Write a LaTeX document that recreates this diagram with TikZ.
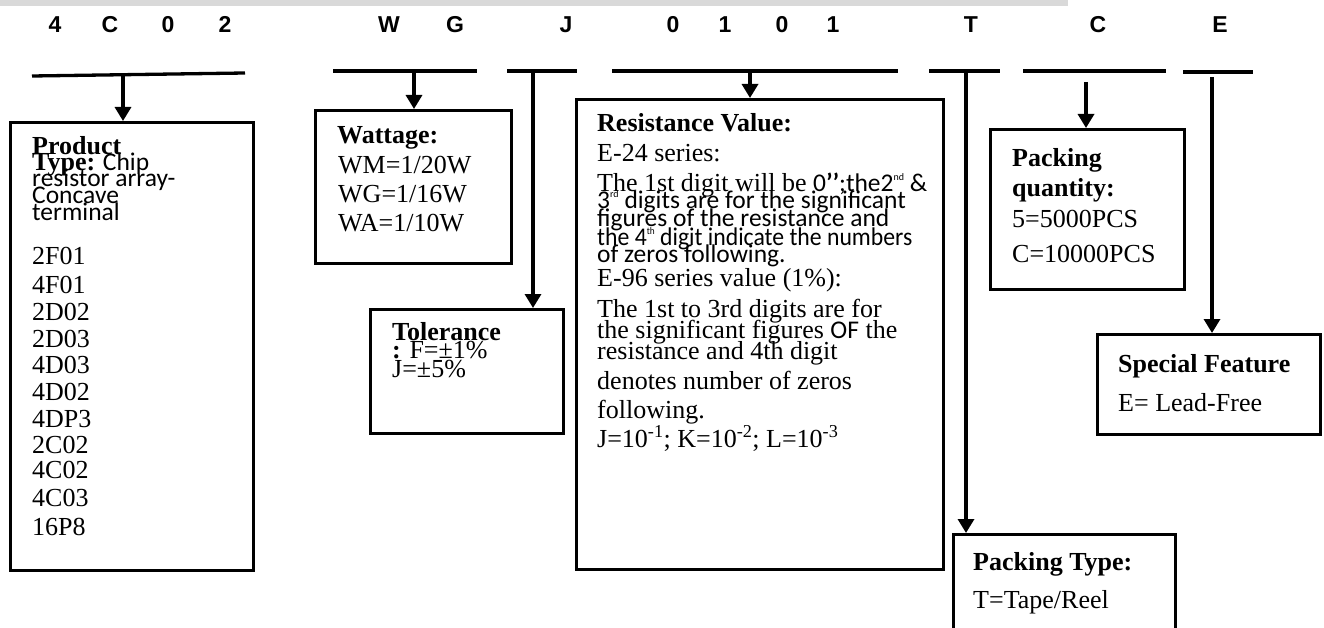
\documentclass[tikz,border=0pt]{standalone}
\usepackage{fontspec}
\setmainfont{Liberation Serif}
\newfontfamily\calfont{Carlito}
\newfontfamily\hdrfont{Liberation Sans}
\usetikzlibrary{arrows.meta}
\definecolor{bandgray}{HTML}{D9D9D9}
\newcommand\tinysup[1]{\raisebox{0.95ex}{\fontsize{10}{10}\selectfont #1}}
\begin{document}
\begin{tikzpicture}[x=1pt,y=-1pt,
  box/.style={draw, line width=3.3pt, inner sep=0pt, anchor=north west},
  bar/.style={line width=3.3pt},
  arr/.style={line width=3.3pt, -{Triangle[width=16pt,length=14pt]}},
  hd/.style={anchor=base, inner sep=0pt, font=\hdrfont\bfseries\fontsize{23}{26}\selectfont},
  tx/.style={anchor=base west, inner sep=0pt, font=\fontsize{26}{28}\selectfont},
  sx/.style={anchor=base west, inner sep=0pt, font=\calfont\fontsize{25.5}{27}\selectfont},
]
\useasboundingbox (0,0) rectangle (1324,628);
\clip (0,0) rectangle (1324,628);
\fill[bandgray] (0,0) rectangle (1068,6);

% header characters
\foreach \c/\x [count=\i] in {4/55,C/110,0/168,2/225,W/389,G/455,J/566,0/673,1/725,0/782,1/833,T/971,C/1098,E/1220}
  \node[hd] (h\i) at (\x,33) {\c};

% bars
\coordinate (b1l) at (32,76);  \coordinate (b1r) at (245,73);
\coordinate (b2l) at (333,71); \coordinate (b2r) at (477,71);
\coordinate (b3l) at (507,71); \coordinate (b3r) at (577,71);
\coordinate (b4l) at (612,71); \coordinate (b4r) at (898,71);
\coordinate (b5l) at (929,71); \coordinate (b5r) at (1000,71);
\coordinate (b6l) at (1023,71); \coordinate (b6r) at (1166,71);
\coordinate (b7l) at (1183,72); \coordinate (b7r) at (1253,72);
\foreach \i in {1,...,7} \draw[bar] (b\i l) -- (b\i r);

% boxes
\node[box, minimum width=243pt, minimum height=448pt] (prod) at (9,121) {};
\node[box, minimum width=196pt, minimum height=153pt] (watt) at (314,109) {};
\node[box, minimum width=193pt, minimum height=124pt] (tol) at (369,308) {};
\node[box, minimum width=367pt, minimum height=470pt] (res) at (575,98) {};
\node[box, minimum width=194pt, minimum height=160pt] (pq) at (989,128) {};
\node[box, minimum width=223pt, minimum height=100pt] (sf) at (1096,333) {};
\node[box, minimum width=222pt, minimum height=130pt] (pt) at (952,533) {};

% connectors
\coordinate (s1) at (123,75);
\coordinate (s2) at (414,71);
\coordinate (s3) at (533,71);
\coordinate (s4) at (750,71);
\coordinate (s5) at (966,71);
\coordinate (s6) at (1086,82);
\coordinate (s7) at (1212,77);
\draw[arr] (s1) -- (s1 |- prod.north);
\draw[arr] (s2) -- (s2 |- watt.north);
\draw[arr] (s3) -- (s3 |- tol.north);
\draw[arr] (s4) -- (s4 |- res.north);
\draw[arr] (s5) -- (s5 |- pt.north);
\draw[arr] (s6) -- (s6 |- pq.north);
\draw[arr] (s7) -- (s7 |- sf.north);

% product type text
\node[tx] (p1) at (32,155) {\bfseries Product};
\node[tx] (p2) at (32,171) {\bfseries Type:{\calfont\fontsize{25.5}{27}\selectfont\mdseries{} Chip}};
\node[sx] (p3) at (32,187) {resistor array-};
\node[sx] (p4) at (32,204) {Concave};
\node[sx] (p5) at (32,221) {terminal};
\foreach \t/\y [count=\i] in {2F01/265,4F01/293,2D02/320,2D03/347,4D03/373,4D02/400,4DP3/427,2C02/453,4C02/478,4C03/506,16P8/535}
  \node[tx] (pl\i) at (32,\y) {\t};

% wattage
\node[tx] (w1) at (337,144) {\bfseries Wattage:};
\node[tx] (w2) at (338,174) {WM=1/20W};
\node[tx] (w3) at (338,203) {WG=1/16W};
\node[tx] (w4) at (338,232) {WA=1/10W};

% tolerance
\node[tx] (t1) at (392,340) {\bfseries Tolerance};
\node[tx] (t2) at (392,358) {{\bfseries :} F=±1\%};
\node[tx] (t3) at (392,377) {J=±5\%};

% resistance value
\node[tx] (r1) at (597,132) {\bfseries Resistance Value:};
\node[tx] (r2) at (597,162) {E-24 series:};
\node[tx] (r3) at (597,192) {The 1st digit will be {\calfont\fontsize{25.5}{27}\selectfont 0{\bfseries ’’};the2\tinysup{nd} \&}};
\node[sx] (r4) at (597,209) {3\tinysup{rd} digits are for the significant};
\node[sx] (r5) at (597,227) {figures of the resistance and};
\node[sx] (r6) at (597,246) {\scalebox{0.93}[1]{the 4\tinysup{th} digit indicate the numbers}};
\node[sx] (r7) at (597,262) {of zeros following.};
\node[tx] (r8) at (597,287) {E-96 series value (1\%):};
\node[tx] (r9) at (597,317) {The 1st to 3rd digits are for};
\node[tx] (r10) at (597,338) {the significant figures {\calfont\fontsize{25.5}{27}\selectfont OF} the};
\node[tx] (r11) at (597,359) {resistance and 4th digit};
\node[tx] (r12) at (597,389) {denotes number of zeros};
\node[tx] (r13) at (597,418) {following.};
\node[tx] (r14) at (597,447) {J=10\textsuperscript{-1}; K=10\textsuperscript{-2}; L=10\textsuperscript{-3}};

% packing quantity
\node[tx] (q1) at (1012,167) {\bfseries Packing};
\node[tx] (q2) at (1012,197) {\bfseries quantity:};
\node[tx] (q3) at (1012,228) {5=5000PCS};
\node[tx] (q4) at (1012,262) {C=10000PCS};

% special feature
\node[tx] (f1) at (1118,372) {\bfseries Special Feature};
\node[tx] (f2) at (1118,411) {E= Lead-Free};

% packing type
\node[tx] (y1) at (973,570) {\bfseries Packing Type:};
\node[tx] (y2) at (973,608) {T=Tape/Reel};
\end{tikzpicture}
\end{document}
